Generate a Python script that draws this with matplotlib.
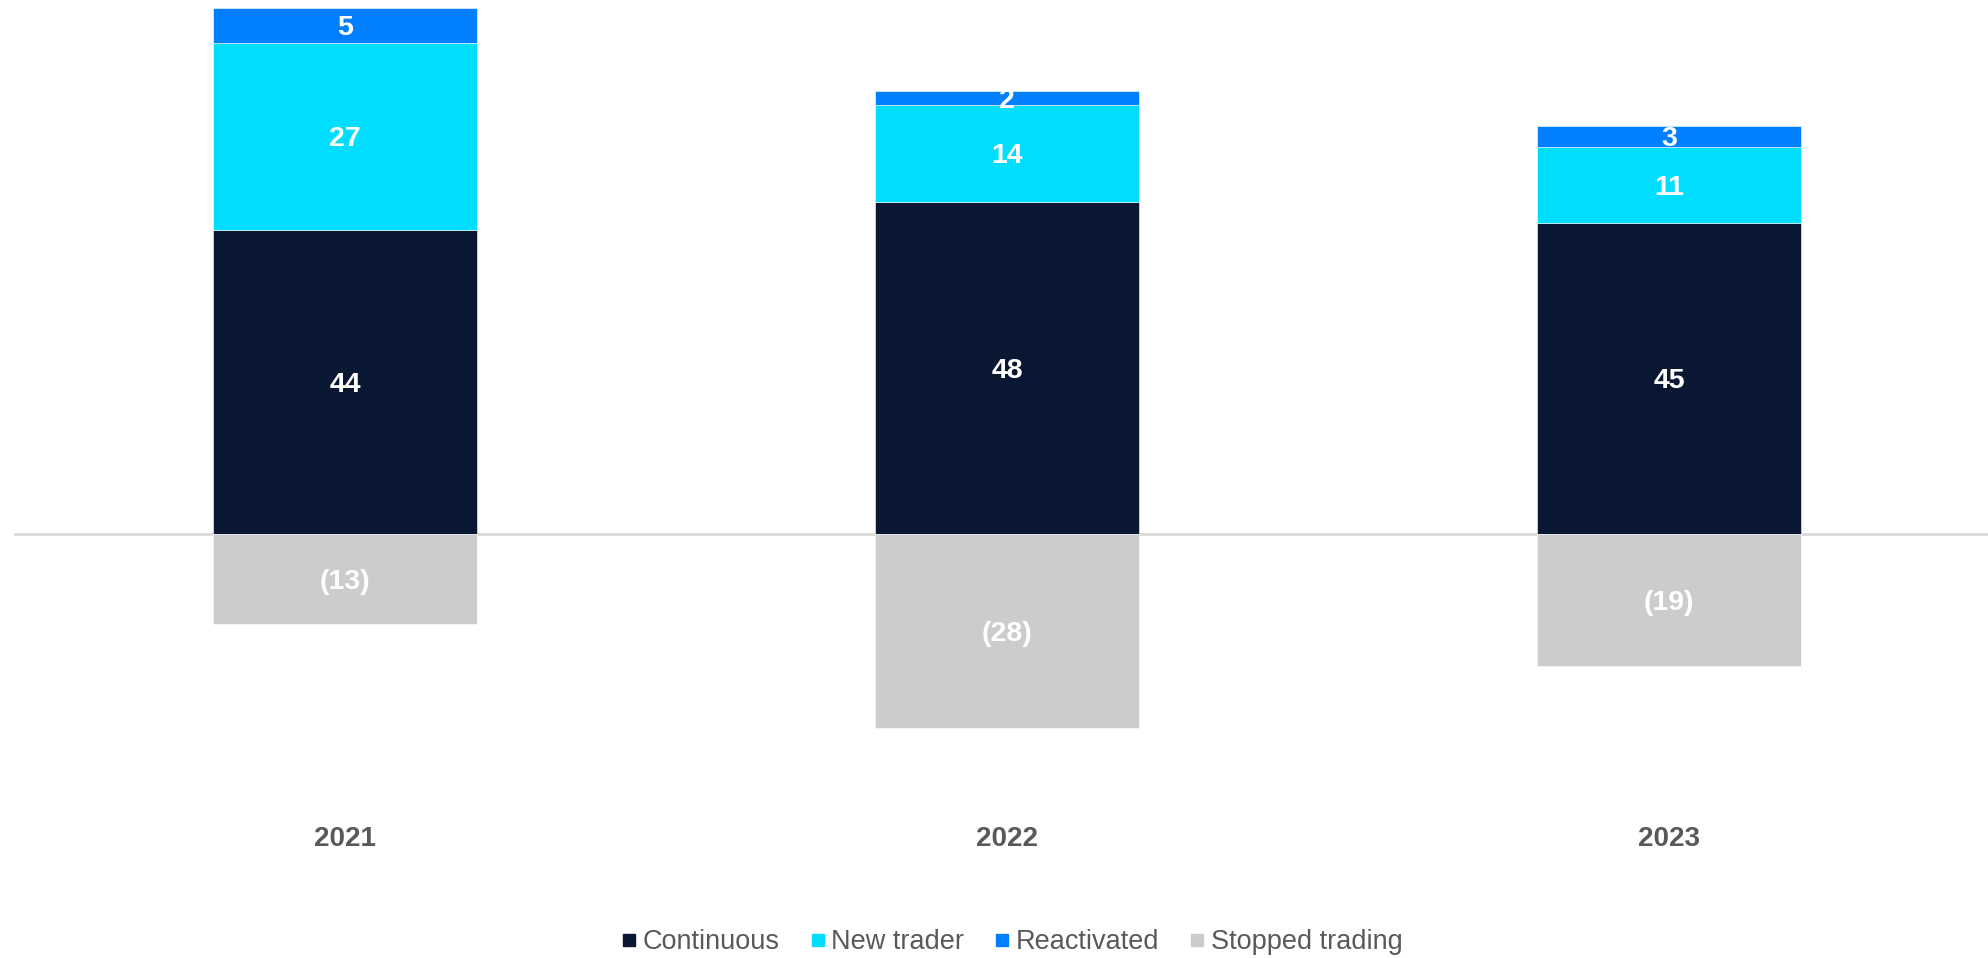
import matplotlib.pyplot as plt
from matplotlib.lines import Line2D

plt.rcParams['font.family'] = ['Liberation Sans', 'DejaVu Sans']

years = ["2021", "2022", "2023"]
continuous = [44, 48, 45]
new_trader = [27, 14, 11]
reactivated = [5, 2, 3]
stopped = [-13, -28, -19]

colors = {
    "Continuous": "#0A1733",
    "New trader": "#00DDFF",
    "Reactivated": "#0080FF",
    "Stopped trading": "#CCCCCC",
}

fig = plt.figure(figsize=(19.88, 9.58), dpi=100)
ax = fig.add_axes([14 / 1988, 1 - 838.5 / 958, 1986 / 1988, (838.5 - 1.2) / 958])

x = range(len(years))
width = 0.4

# stacked positive segments, labelled in the middle
bottom = [0] * len(years)
for name, vals in [("Continuous", continuous), ("New trader", new_trader),
                   ("Reactivated", reactivated)]:
    ax.bar(x, vals, width, bottom=bottom, color=colors[name],
           edgecolor="white", linewidth=0.4, zorder=2)
    for i, v in enumerate(vals):
        ax.text(i, bottom[i] + v / 2, str(v), ha="center", va="center_baseline",
                color="white", fontsize=20.5, fontweight="bold", zorder=3)
    bottom = [b + v for b, v in zip(bottom, vals)]

# traders lost, below zero
ax.bar(x, stopped, width, color=colors["Stopped trading"],
       edgecolor="white", linewidth=0.4, zorder=2)
for i, v in enumerate(stopped):
    ax.text(i, v / 2, f"({abs(v)})", ha="center", va="center_baseline",
            color="white", fontsize=20.5, fontweight="bold", zorder=3)

ax.axhline(0, color="#D9D9D9", linewidth=2, zorder=1)

ax.set_xlim(-0.5, 2.5)
ax.set_ylim(-44, 77)
ax.set_yticks([])
ax.set_xticks(list(x))
ax.set_xticklabels(years, fontsize=20, fontweight="bold", color="#595959")
ax.tick_params(axis="x", length=0, pad=-9)
for s in ax.spines.values():
    s.set_visible(False)

handles = [Line2D([], [], marker="s", linestyle="none", markersize=8,
                  markerfacecolor=c, markeredgecolor=c)
           for c in colors.values()]
fig.legend(handles, list(colors.keys()), loc="center",
           bbox_to_anchor=(0.509, 1 - 942 / 958), ncol=4, frameon=False,
           fontsize=19.5, labelcolor="#595959", handlelength=0.6,
           handletextpad=0.2, columnspacing=1.1)

fig.savefig("out.png", dpi=100)
